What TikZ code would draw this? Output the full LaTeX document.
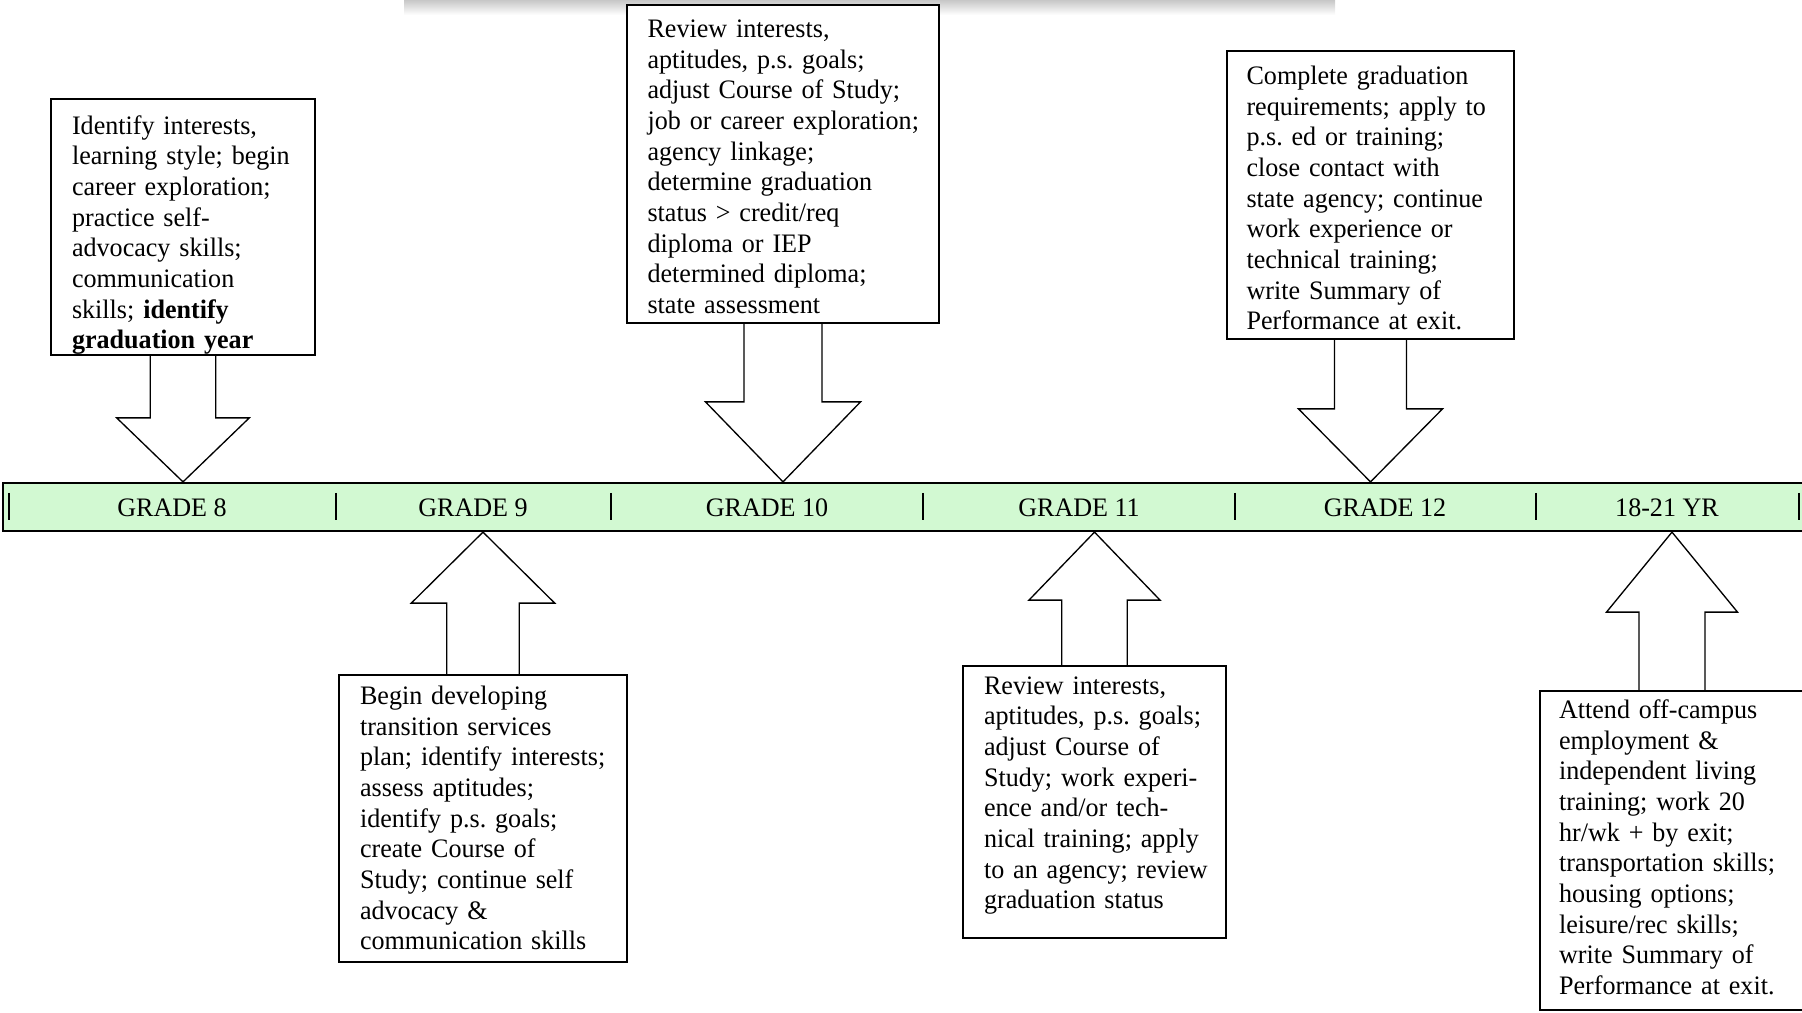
\documentclass[tikz,border=0pt]{standalone}
\usepackage{fontspec}
\setmainfont[FakeStretch=0.978]{Liberation Serif}
\usetikzlibrary{calc,fit}
\definecolor{barfill}{HTML}{D2F9D2}
\newcommand{\gradefont}{\fontsize{12pt}{13.8pt}\selectfont\frenchspacing}

\begin{document}
\begin{tikzpicture}[x=0.45pt,y=-0.45pt,
  note/.style={draw,fill=white,line width=0.8pt,inner sep=0pt},
  notetext/.style={anchor=base west,inner sep=0pt,text width=220pt,align=left,font=\gradefont},
  bar/.style={draw,fill=barfill,line width=1pt,inner sep=0pt},
  tick/.style={line width=0.9pt},
  gradelabel/.style={font=\gradefont,inner sep=0pt},
  blockarrow/.style={draw,line width=0.6pt}]
  \useasboundingbox (0,0) rectangle (1802,1013);
  \clip (0,0) rectangle (1802,1013);
  % shadow strip at the top edge
  \shade[top color=black!22,bottom color=white] (404,0) rectangle (1335,15);

  % timeline
  \node[bar,fit={(3,483) (1830,531)}] (bar) {};
  \foreach \x in {9,336,611,923,1235,1536,1799}
    \draw[tick] (\x,493) -- (\x,520);
  \foreach \x/\t [count=\i] in {172/GRADE 8,473/GRADE 9,767/GRADE 10,1079/GRADE 11,1385/GRADE 12,1667/18-21 YR}
    \node[gradelabel] (g\i) at (\x,508) {\t};

  % boxes above the timeline
  \node[note,fit={(51,99) (315,355)}] (b8) {};
  \node[notetext] (b8t) at ($(b8.north west)+(21.5,36)$)
    {Identify interests,\\learning style; begin\\career exploration;\\practice self-\\advocacy skills;\\communication\\skills; \textbf{identify}\\\textbf{graduation year}};
  \node[note,fit={(627,5) (939,323)}] (b10) {};
  \node[notetext] (b10t) at ($(b10.north west)+(21,33.5)$)
    {Review interests,\\aptitudes, p.s. goals;\\adjust Course of Study;\\job or career exploration;\\agency linkage;\\determine graduation\\status > credit/req\\diploma or IEP\\determined diploma;\\state assessment};
  \node[note,fit={(1227,51) (1514,339)}] (b12) {};
  \node[notetext] (b12t) at ($(b12.north west)+(20,34.5)$)
    {Complete graduation\\requirements; apply to\\p.s. ed or training;\\close contact with\\state agency; continue\\work experience or\\technical training;\\write Summary of\\Performance at exit.};

  % boxes below the timeline
  \node[note,fit={(339,675) (627,962)}] (b9) {};
  \node[notetext] (b9t) at ($(b9.north west)+(21.5,30.5)$)
    {Begin developing\\transition services\\plan; identify interests;\\assess aptitudes;\\identify p.s. goals;\\create Course of\\Study; continue self\\advocacy \&\\communication skills};
  \node[note,fit={(963,666) (1226,938)}] (b11) {};
  \node[notetext] (b11t) at ($(b11.north west)+(21.5,29)$)
    {Review interests,\\aptitudes, p.s. goals;\\adjust Course of\\Study; work experi-\\ence and/or tech-\\nical training; apply\\to an agency; review\\graduation status};
  \node[note,fit={(1540,691) (1804,1010)}] (b18) {};
  \node[notetext] (b18t) at ($(b18.north west)+(19.5,28.5)$)
    {Attend off-campus\\employment \&\\independent living\\training; work 20\\hr/wk + by exit;\\transportation skills;\\housing options;\\leisure/rec skills;\\write Summary of\\Performance at exit.};

  % block arrows down to the timeline
  \foreach \b/\sw/\hw/\hl in {b8/32.7/66.3/64,b10/39/77.5/80,b12/36/72/73} {
    \coordinate (t) at (\b.south |- bar.north);
    \draw[blockarrow] ($(\b.south)+(-\sw,0)$) -- ($(t)+(-\sw,-\hl)$) -- ($(t)+(-\hw,-\hl)$) -- (t)
      -- ($(t)+(\hw,-\hl)$) -- ($(t)+(\sw,-\hl)$) -- ($(\b.south)+(\sw,0)$);
  }
  % block arrows up to the timeline
  \foreach \b/\sw/\hw/\hl in {b9/36.3/71.7/71,b11/32.7/65.5/68,b18/33/65.5/80} {
    \coordinate (t) at (\b.north |- bar.south);
    \draw[blockarrow] ($(\b.north)+(-\sw,0)$) -- ($(t)+(-\sw,\hl)$) -- ($(t)+(-\hw,\hl)$) -- (t)
      -- ($(t)+(\hw,\hl)$) -- ($(t)+(\sw,\hl)$) -- ($(\b.north)+(\sw,0)$);
  }
\end{tikzpicture}
\end{document}
